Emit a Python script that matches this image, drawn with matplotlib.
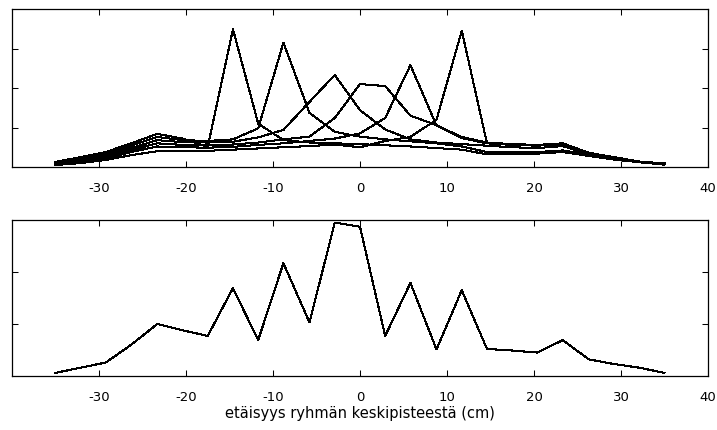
import numpy as np
import matplotlib
matplotlib.use("Agg")
import matplotlib.pyplot as plt

# etäisyydet ryhmän keskipisteestä (cm)
x = [-35.0, -32.1, -29.2, -26.3, -23.3, -20.4, -17.5, -14.6, -11.7, -8.8, -5.8, -2.9,
     0.0, 2.9, 5.8, 8.8, 11.7, 14.6, 17.5, 20.4, 23.3, 26.3, 29.2, 32.1, 35.0]

# yksittäiset jakaumat (yläkuva)
jakauma1 = [0.13, 0.25, 0.38, 0.60, 0.84, 0.72, 0.51, 3.49, 1.10, 0.68, 0.62, 0.60, 0.58,
            0.55, 0.52, 0.48, 0.44, 0.32, 0.33, 0.34, 0.38, 0.28, 0.19, 0.12, 0.06]
jakauma2 = [0.11, 0.22, 0.33, 0.54, 0.76, 0.68, 0.66, 0.70, 0.98, 3.15, 1.37, 0.89, 0.77,
            0.70, 0.65, 0.60, 0.52, 0.38, 0.38, 0.38, 0.42, 0.31, 0.21, 0.13, 0.07]
jakauma3 = [0.09, 0.19, 0.29, 0.48, 0.68, 0.63, 0.62, 0.64, 0.75, 0.94, 1.65, 2.33, 1.44,
            0.95, 0.70, 0.62, 0.58, 0.54, 0.50, 0.48, 0.53, 0.32, 0.21, 0.12, 0.07]
jakauma4 = [0.08, 0.16, 0.25, 0.43, 0.60, 0.56, 0.55, 0.57, 0.62, 0.70, 0.77, 1.24, 2.10,
            2.05, 1.30, 1.06, 0.73, 0.60, 0.56, 0.54, 0.58, 0.34, 0.22, 0.13, 0.08]
jakauma5 = [0.07, 0.14, 0.22, 0.38, 0.52, 0.50, 0.49, 0.51, 0.56, 0.60, 0.66, 0.72, 0.85,
            1.24, 2.58, 1.05, 0.76, 0.62, 0.58, 0.56, 0.60, 0.35, 0.24, 0.14, 0.08]
jakauma6 = [0.05, 0.10, 0.18, 0.30, 0.40, 0.41, 0.41, 0.44, 0.47, 0.50, 0.53, 0.57, 0.50,
            0.66, 0.76, 1.20, 3.45, 0.60, 0.58, 0.56, 0.60, 0.36, 0.25, 0.14, 0.09]
jakaumat = [jakauma1, jakauma2, jakauma3, jakauma4, jakauma5, jakauma6]

# yhdistetty käyrä (alakuva)
yhdistetty = [0.06, 0.16, 0.26, 0.60, 1.00, 0.88, 0.77, 1.69, 0.69, 2.17, 1.03, 2.95, 2.87,
              0.77, 1.79, 0.51, 1.65, 0.52, 0.49, 0.45, 0.69, 0.32, 0.23, 0.16, 0.06]

xtikit = [-30, -20, -10, 0, 10, 20, 30, 40]
xtekstit = ['-30', '-20', '-10', '0', '10', '20', '30', '40']

plt.rcParams['font.family'] = ['DejaVu Sans']

fig = plt.figure(figsize=(7.17, 4.30), dpi=100)
ax1 = fig.add_axes([0.0167, 0.6116, 0.9707, 0.3674])
ax2 = fig.add_axes([0.0167, 0.1256, 0.9707, 0.3628])

for j in jakaumat:
    ax1.plot(x, j, color='black', linewidth=0.75, antialiased=False)
ax2.plot(x, yhdistetty, color='black', linewidth=0.75, antialiased=False)

ax1.set_ylim(0, 4)
ax1.set_yticks([1, 2, 3])
ax2.set_ylim(0, 3)
ax2.set_yticks([1, 2])

for ax in (ax1, ax2):
    ax.set_xlim(-40, 40)
    ax.set_xticks(xtikit)
    ax.set_xticklabels(xtekstit)
    ax.set_yticklabels([])
    ax.tick_params(direction='in', top=True, right=True, length=4, width=0.75,
                   labelsize=9.5, pad=10.5)
    for s in ax.spines.values():
        s.set_linewidth(0.9)

ax2.set_xlabel('etäisyys ryhmän keskipisteestä (cm)', fontsize=10.5, labelpad=2)

fig.savefig('out.png', dpi=100)
